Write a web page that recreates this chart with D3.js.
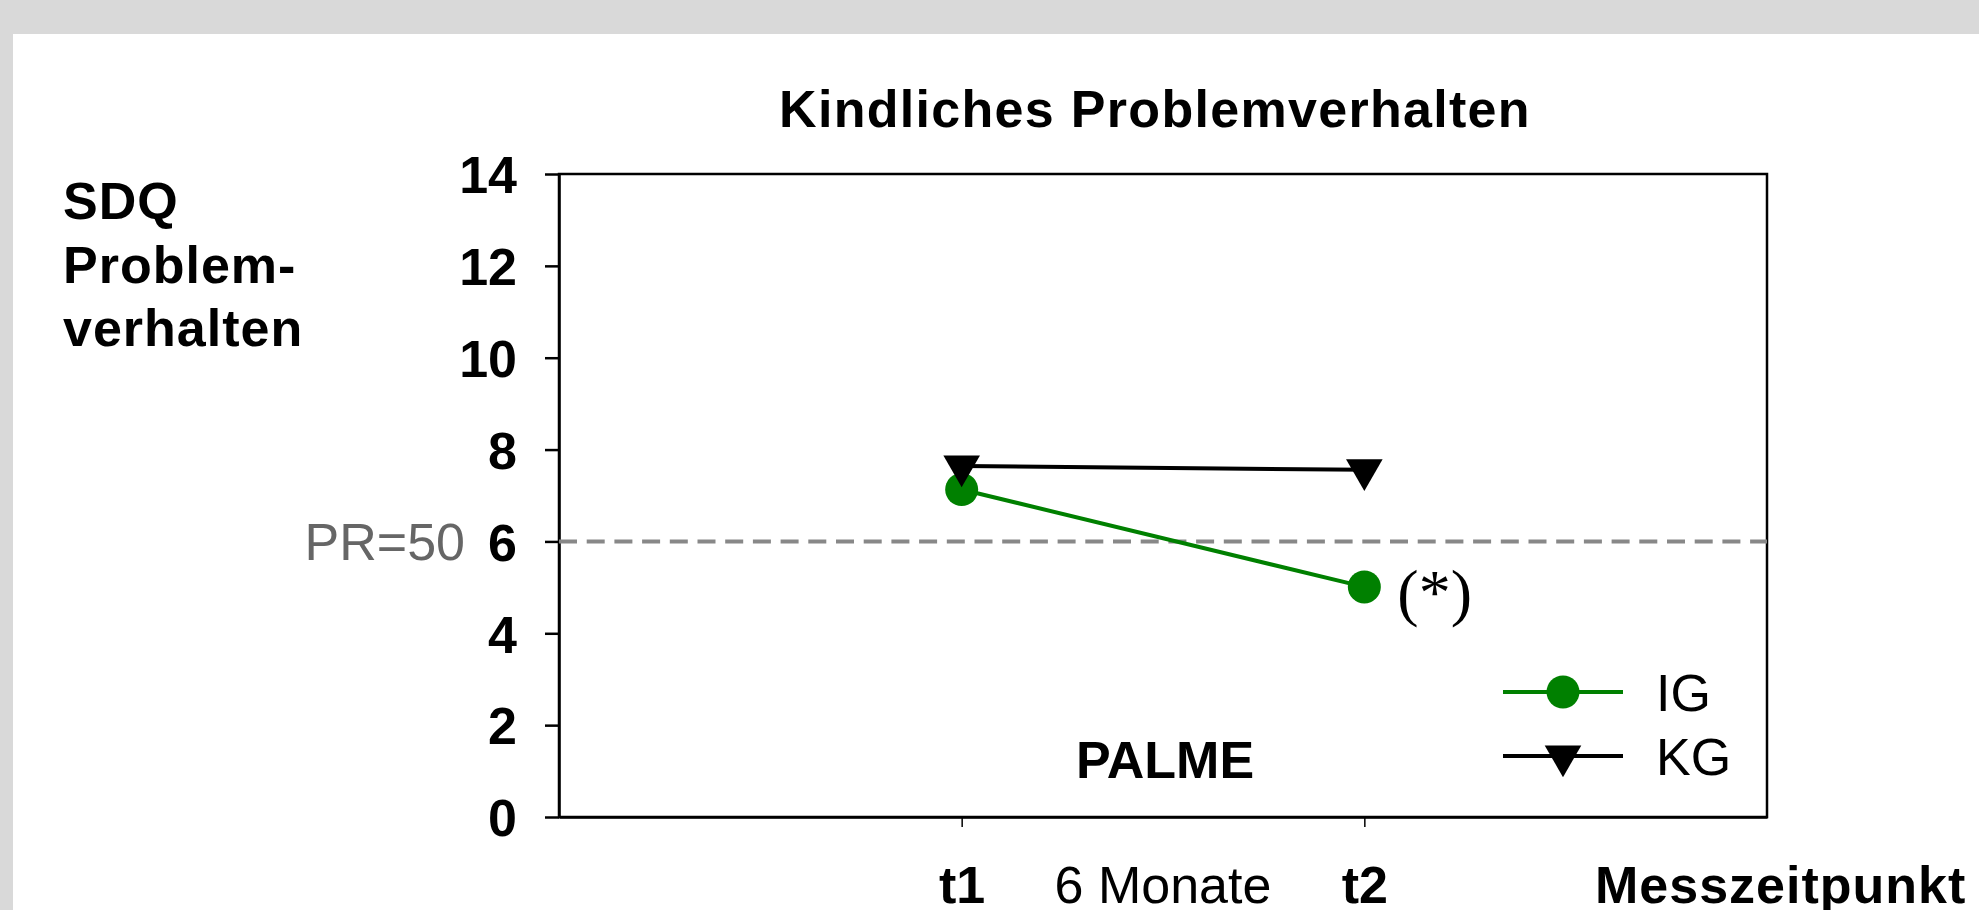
<!DOCTYPE html>
<html>
<head>
<meta charset="utf-8">
<script src="https://cdn.jsdelivr.net/npm/d3@7"></script>
<style>
  body { margin: 0; background: #d9d9d9; }
  svg { display: block; font-family: "Liberation Sans", Arial, sans-serif; }
</style>
</head>
<body>
<script>
// values
var timepoints = [1, 2];            // position on the x axis (domain 0..3)
var timeLabels = ["t1", "t2"];
var igValues = [7.13, 5.01];
var kgValues = [7.64, 7.56];
var yTicks = [0, 2, 4, 6, 8, 10, 12, 14];
var prLine = 6;

(()=> {
  let W = 1979, H = 910;
  let plot = {left: 559, right: 1767, top: 174, bottom: 817};

  let svg = d3.select("body").append("svg")
      .attr("width", W)
      .attr("height", H);

  // white panel on the grey page
  svg.append("rect")
      .attr("x", 13).attr("y", 34)
      .attr("width", W - 13).attr("height", H - 34)
      .attr("fill", "#fff");

  let x = d3.scaleLinear().domain([0, 3]).range([plot.left, plot.right]);
  let y = d3.scaleLinear().domain([0, 14]).range([plot.bottom, plot.top]);

  // title
  svg.append("text")
      .attr("x", 1155).attr("y", 127)
      .attr("text-anchor", "middle")
      .attr("font-size", 52).attr("font-weight", "bold")
      .attr("letter-spacing", 1.3)
      .text("Kindliches Problemverhalten");

  // y axis title, three lines
  let ytitle = svg.append("text")
      .attr("font-size", 52).attr("font-weight", "bold")
      .attr("letter-spacing", 1);
  ["SDQ", "Problem-", "verhalten"].forEach(function(s, i) {
    ytitle.append("tspan").attr("x", 63).attr("y", 219 + i * 63.5).text(s);
  });

  // frame
  svg.append("rect")
      .attr("x", plot.left).attr("y", plot.top)
      .attr("width", plot.right - plot.left)
      .attr("height", plot.bottom - plot.top)
      .attr("fill", "none")
      .attr("stroke", "#000")
      .attr("stroke-width", 2.5);

  // y axis
  let yAxis = svg.append("g")
      .attr("transform", "translate(" + plot.left + ",0)")
      .call(d3.axisLeft(y).tickValues(yTicks).tickSize(14).tickPadding(28).tickSizeOuter(0));
  yAxis.select(".domain").attr("stroke-width", 2.5);
  yAxis.selectAll(".tick line").attr("stroke-width", 2.5);
  yAxis.selectAll("text")
      .attr("font-family", "Liberation Sans, Arial, sans-serif")
      .attr("font-size", 52).attr("font-weight", "bold")
      .attr("dy", "0.36em");

  // x axis
  let xAxis = svg.append("g")
      .attr("transform", "translate(0," + plot.bottom + ")")
      .call(d3.axisBottom(x).tickValues(timepoints).tickSize(10).tickSizeOuter(0)
        .tickFormat(function(d, i) { return timeLabels[i]; }));
  xAxis.select(".domain").attr("stroke-width", 2.5);
  xAxis.selectAll(".tick line").attr("stroke-width", 1.5);
  xAxis.selectAll("text")
      .attr("font-family", "Liberation Sans, Arial, sans-serif")
      .attr("font-size", 52).attr("font-weight", "bold")
      .attr("y", 86).attr("dy", 0);

  svg.append("text")
      .attr("x", x(1.5)).attr("y", 903)
      .attr("text-anchor", "middle")
      .attr("font-size", 52)
      .text("6 Monate");

  svg.append("text")
      .attr("x", 1595).attr("y", 903)
      .attr("font-size", 52).attr("font-weight", "bold")
      .attr("letter-spacing", 1)
      .text("Messzeitpunkt");

  // PR=50 reference line
  svg.append("line")
      .attr("x1", plot.left).attr("x2", plot.right)
      .attr("y1", y(prLine)).attr("y2", y(prLine))
      .attr("stroke", "#888")
      .attr("stroke-width", 4)
      .attr("stroke-dasharray", "18,9.7");
  svg.append("text")
      .attr("x", 465).attr("y", y(prLine))
      .attr("dy", "0.36em")
      .attr("text-anchor", "end")
      .attr("font-size", 52)
      .attr("fill", "#666")
      .text("PR=50");

  let line = d3.line()
      .x(function(d, i) { return x(timepoints[i]); })
      .y(function(d) { return y(d); });

  let triangle = d3.symbol().type(d3.symbolTriangle).size(580);

  // KG line
  svg.append("path")
      .datum(kgValues)
      .attr("d", line)
      .attr("fill", "none")
      .attr("stroke", "#000")
      .attr("stroke-width", 4);

  // IG line + dots
  svg.append("path")
      .datum(igValues)
      .attr("d", line)
      .attr("fill", "none")
      .attr("stroke", "#008000")
      .attr("stroke-width", 4);

  svg.selectAll(".ig")
      .data(igValues)
      .enter().append("circle")
      .attr("class", "ig")
      .attr("cx", function(d, i) { return x(timepoints[i]); })
      .attr("cy", function(d) { return y(d); })
      .attr("r", 16.5)
      .attr("fill", "#008000");

  svg.selectAll(".kg")
      .data(kgValues)
      .enter().append("path")
      .attr("class", "kg")
      .attr("d", triangle)
      .attr("transform", function(d, i) {
        return "translate(" + x(timepoints[i]) + "," + y(d) + ") rotate(180)";
      })
      .attr("fill", "#000");

  // significance marker at t2
  svg.append("text")
      .attr("x", x(timepoints[1]) + 33).attr("y", y(igValues[1]) + 27)
      .attr("font-family", "Liberation Serif, Times New Roman, serif")
      .attr("font-size", 64)
      .text("(*)");

  svg.append("text")
      .attr("x", 1165).attr("y", 778)
      .attr("text-anchor", "middle")
      .attr("font-size", 52).attr("font-weight", "bold")
      .text("PALME");

  // legend
  let legend = svg.append("g").attr("transform", "translate(1503,692)");
  legend.append("line")
      .attr("x1", 0).attr("x2", 120)
      .attr("stroke", "#008000").attr("stroke-width", 4);
  legend.append("circle").attr("cx", 60).attr("r", 16.5).attr("fill", "#008000");
  legend.append("text").attr("x", 153).attr("y", 0).attr("dy", "0.36em")
      .attr("font-size", 52).text("IG");

  legend.append("line")
      .attr("x1", 0).attr("x2", 120).attr("y1", 64).attr("y2", 64)
      .attr("stroke", "#000").attr("stroke-width", 4);
  legend.append("path")
      .attr("d", triangle)
      .attr("transform", "translate(60,64) rotate(180)")
      .attr("fill", "#000");
  legend.append("text").attr("x", 153).attr("y", 64).attr("dy", "0.36em")
      .attr("font-size", 52).text("KG");
})()
</script>
</body>
</html>
